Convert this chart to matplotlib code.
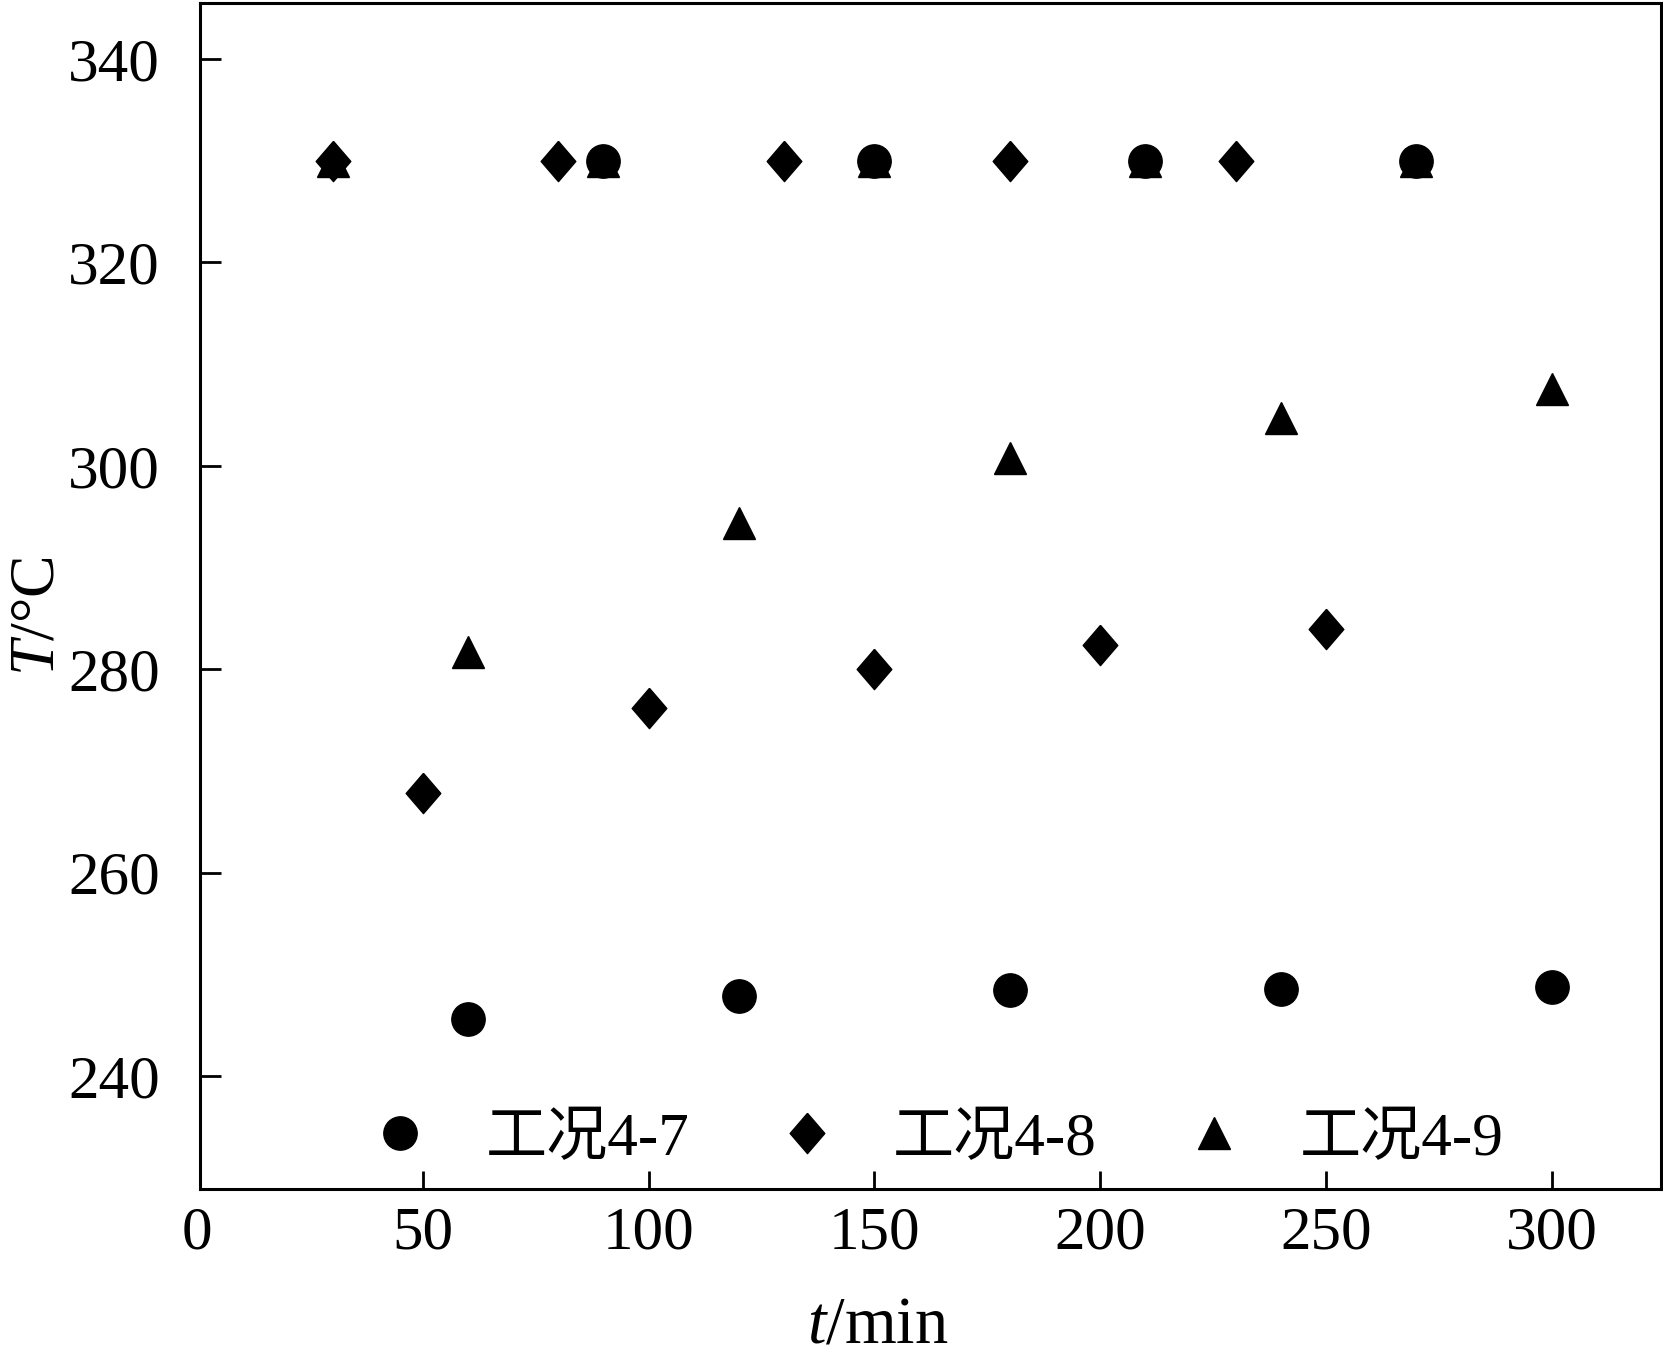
"""Recreate the T vs t scatter chart for cases 4-7, 4-8 and 4-9."""

import matplotlib

matplotlib.use("Agg")

import matplotlib.pyplot as plt
import matplotlib.transforms as mtransforms

plt.rcParams["font.family"] = ["Liberation Serif", "Noto Sans CJK SC"]
plt.rcParams["mathtext.fontset"] = "custom"
plt.rcParams["mathtext.it"] = "Liberation Serif:italic"
plt.rcParams["mathtext.rm"] = "Liberation Serif"

# case 4-7 (circles)
t_47 = [60, 90, 120, 150, 180, 210, 240, 270, 300]
T_47 = [245.6, 330, 247.9, 330, 248.5, 330, 248.6, 330, 248.8]

# case 4-8 (diamonds)
t_48 = [30, 50, 80, 100, 130, 150, 180, 200, 230, 250]
T_48 = [330, 267.8, 330, 276.2, 330, 280.0, 330, 282.4, 330, 284.0]

# case 4-9 (triangles)
t_49 = [30, 60, 90, 120, 150, 180, 210, 240, 270, 300]
T_49 = [330, 281.7, 330, 294.4, 330, 300.8, 330, 304.7, 330, 307.5]

labels = ["工况4-7", "工况4-8", "工况4-9"]
x_ticks = [0, 50, 100, 150, 200, 250, 300]
y_ticks = [240, 260, 280, 300, 320, 340]

FS = 44
X_LIM = (0.66, 324.2)
Y_LIM = (228.9, 345.5)

diamond = [(0, 0.5), (0.43, 0), (0, -0.5), (-0.43, 0), (0, 0.5)]

fig = plt.figure(figsize=(16.63, 13.54), dpi=100)
ax = fig.add_axes([0.1203, 0.1219, 0.8785, 0.8759])

ax.plot(t_47, T_47, "o", color="black", markersize=24, linestyle="none", label=labels[0])
ax.plot(t_48, T_48, marker=diamond, color="black", markersize=29,
        linestyle="none", label=labels[1])
ax.plot(t_49, T_49, "^", color="black", markersize=23, linestyle="none", label=labels[2])

ax.set_xlim(*X_LIM)
ax.set_ylim(*Y_LIM)
ax.set_xticks([v for v in x_ticks if v >= X_LIM[0]])
ax.set_yticks(y_ticks)
ax.tick_params(direction="in", width=2, labelsize=FS, top=False, right=False)
ax.tick_params(axis="x", length=13, pad=12)
ax.tick_params(axis="y", length=15, pad=29)
for spine in ax.spines.values():
    spine.set_linewidth(2.2)

# the "0" label sits just left of the spine, outside the view limits
trans = mtransforms.blended_transform_factory(ax.transData, ax.transAxes)
for v in x_ticks:
    if v < X_LIM[0]:
        ax.annotate(str(v), xy=(v, 0), xycoords=trans, xytext=(0, -12),
                    textcoords="offset points", ha="center", va="top", fontsize=FS)

ax.set_xlabel(r"$t$/min", fontsize=48)
ax.xaxis.set_label_coords(0.464, -0.090)
ax.set_ylabel(r"$T$/°C", fontsize=46, va="baseline")
ax.yaxis.set_label_coords(-0.1006, 0.483)

ax.legend(loc="center left", bbox_to_anchor=(0.116, 0.0415), ncol=3,
          frameon=False, fontsize=44, borderpad=0, borderaxespad=0,
          handlelength=1.0, handletextpad=0.91, columnspacing=1.415)

fig.savefig("out.png", dpi=100)
